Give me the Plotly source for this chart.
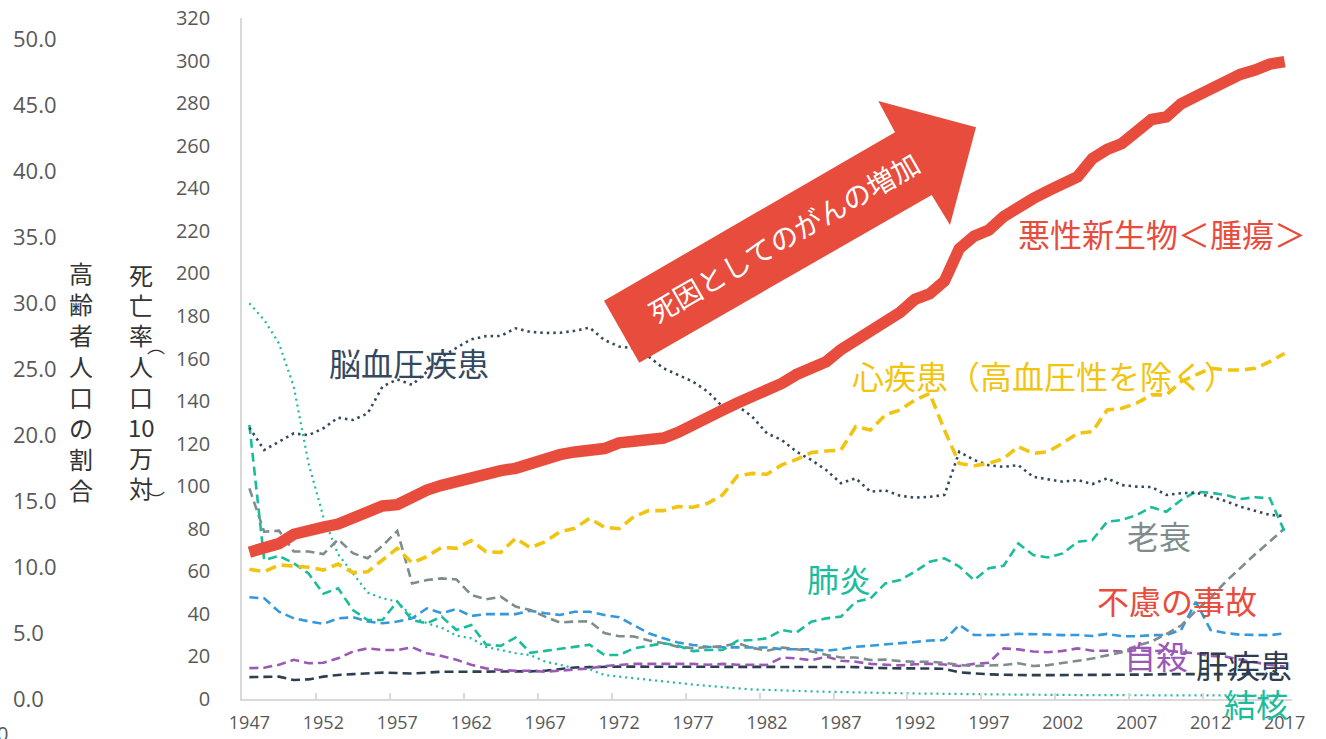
import plotly.graph_objects as go

# ---------------- data ----------------
years = list(range(1947, 2018))

cancer = [69.0, 70.6, 73.0, 77.4, 78.5, 80.8, 82.2, 85.3, 87.1, 90.7,
          91.3, 95.5, 98.2, 100.4, 102.3, 103.2, 105.5, 107.3, 108.4, 110.8,
          113.0, 114.8, 116.1, 116.3, 117.7, 120.4, 121.2, 122.2, 122.6, 125.3,
          128.4, 131.3, 135.7, 139.1, 142.0, 144.2, 148.3, 152.5, 156.1, 158.5,
          164.2, 168.4, 173.6, 177.2, 181.7, 187.8, 190.4, 196.4, 211.6, 217.5,
          220.4, 226.7, 231.6, 235.2, 238.8, 241.7, 245.4, 253.9, 258.3, 261.0,
          266.9, 272.3, 273.5, 279.7, 283.2, 286.6, 290.3, 293.5, 295.5, 298.3,
          299.5]

heart = [61.0, 59.8, 63.0, 62.5, 61.9, 60.6, 63.4, 59.4, 59.8, 65.3,
         70.8, 64.0, 66.9, 71.3, 70.8, 74.4, 69.2, 68.9, 75.5, 71.1,
         73.9, 78.6, 80.2, 84.9, 80.7, 80.0, 85.7, 88.5, 88.5, 90.4,
         90.1, 92.0, 95.9, 104.8, 106.0, 105.6, 110.0, 112.6, 115.8, 116.5,
         117.0, 128.0, 126.4, 133.5, 135.8, 140.5, 143.6, 126.4, 110.7, 109.6,
         110.7, 113.0, 118.6, 115.4, 116.2, 120.2, 124.8, 125.6, 135.8, 136.6,
         139.0, 142.9, 142.9, 149.1, 152.3, 155.4, 154.6, 154.6, 155.4, 158.5,
         162.4]

cerebro = [127.5, 117.0, 120.9, 124.8, 124.0, 127.2, 132.2, 131.1, 134.2, 146.8,
           150.2, 147.6, 153.8, 160.7, 165.0, 169.0, 170.5, 170.6, 174.2, 172.5,
           172.0, 172.1, 173.0, 174.5, 168.7, 165.6, 164.8, 160.9, 155.4, 152.3,
           149.1, 144.4, 137.4, 137.7, 132.7, 124.8, 121.7, 116.2, 112.3, 107.6,
           101.4, 103.7, 97.4, 98.0, 95.5, 94.6, 95.0, 95.9, 116.2, 112.3,
           109.8, 109.1, 109.9, 104.4, 103.4, 102.1, 102.9, 101.0, 103.7, 100.5,
           99.8, 99.6, 95.9, 96.7, 97.0, 95.1, 93.0, 90.4, 88.5, 86.5,
           86.0]

pneumonia = [128.8, 65.3, 67.2, 63.8, 59.0, 49.5, 52.0, 41.8, 37.1, 37.1,
             45.8, 37.1, 35.6, 38.7, 32.4, 34.8, 25.6, 25.0, 28.9, 21.7,
             22.6, 23.5, 24.3, 25.5, 20.7, 20.7, 23.8, 25.0, 26.2, 25.0,
             22.5, 23.0, 23.0, 27.4, 27.7, 28.5, 32.4, 31.3, 36.3, 37.9,
             38.7, 45.7, 47.3, 54.3, 55.9, 59.8, 64.5, 66.1, 62.2, 55.9,
             61.4, 62.6, 73.1, 67.6, 66.5, 68.4, 73.9, 74.7, 83.3, 84.1,
             86.5, 90.1, 88.0, 93.5, 97.4, 96.9, 95.9, 94.0, 94.8, 94.3,
             78.6]

senility = [99.0, 78.6, 79.1, 69.3, 69.3, 68.1, 75.0, 68.5, 66.1, 72.0,
            79.0, 54.3, 55.9, 56.7, 56.2, 48.9, 46.8, 48.1, 43.4, 41.8,
            38.7, 35.9, 36.4, 36.5, 31.0, 29.5, 29.4, 27.5, 26.2, 24.5,
            23.9, 24.2, 24.8, 26.2, 24.0, 22.7, 24.2, 23.4, 22.3, 20.8,
            19.5, 19.5, 18.3, 18.5, 17.8, 17.5, 17.5, 17.0, 16.0, 15.5,
            15.8, 16.0, 16.8, 15.5, 15.9, 17.0, 17.8, 19.0, 20.5, 22.0,
            25.0, 27.0, 30.5, 34.5, 41.5, 47.5, 55.0, 61.5, 68.0, 74.0,
            80.2]

accident = [47.8, 47.3, 41.0, 37.9, 36.5, 35.3, 37.9, 38.4, 36.4, 35.6,
            36.4, 37.9, 42.6, 40.3, 42.3, 39.0, 39.9, 39.9, 39.9, 41.5,
            40.3, 39.5, 41.0, 41.0, 39.5, 38.4, 34.8, 30.9, 28.5, 26.5,
            25.4, 24.5, 24.3, 24.2, 24.0, 24.2, 23.4, 23.4, 23.4, 22.7,
            23.4, 24.5, 25.0, 25.5, 26.1, 26.8, 27.5, 27.7, 34.8, 30.1,
            30.0, 30.1, 30.6, 30.6, 30.3, 30.0, 30.1, 29.6, 30.6, 29.5,
            29.5, 30.0, 30.1, 32.4, 45.7, 32.4, 31.0, 30.2, 30.0, 30.0,
            30.8]

suicide = [14.5, 14.7, 16.1, 18.4, 16.8, 17.0, 19.1, 22.3, 23.8, 23.0,
           23.0, 24.3, 21.5, 20.2, 18.4, 16.1, 14.4, 13.6, 13.3, 13.3,
           12.8, 13.3, 13.6, 14.4, 15.5, 16.1, 16.5, 16.5, 16.5, 16.5,
           16.5, 16.1, 16.5, 16.1, 16.0, 16.0, 19.5, 19.1, 18.2, 19.9,
           18.0, 17.5, 16.5, 16.0, 15.8, 16.3, 16.5, 16.2, 15.5, 16.5,
           17.0, 23.8, 23.3, 22.3, 22.0, 22.6, 23.8, 22.7, 22.7, 22.3,
           22.9, 22.5, 22.8, 22.0, 21.5, 20.2, 19.9, 18.5, 17.3, 16.0,
           15.2]

liver = [10.3, 10.5, 10.5, 8.9, 9.2, 10.5, 11.3, 11.7, 12.0, 12.4,
         12.2, 12.0, 12.4, 12.8, 12.8, 12.8, 12.8, 12.8, 12.8, 13.0,
         13.3, 14.0, 14.8, 15.0, 15.2, 15.2, 15.2, 15.2, 15.2, 15.2,
         15.2, 15.2, 15.2, 15.2, 15.0, 15.0, 15.0, 15.0, 15.0, 15.0,
         15.0, 15.0, 14.6, 14.4, 14.4, 14.4, 14.4, 14.2, 12.5, 12.0,
         11.6, 11.4, 11.2, 11.2, 11.2, 11.2, 11.2, 11.2, 11.3, 11.3,
         11.4, 11.5, 11.7, 11.7, 11.7, 11.7, 11.7, 11.7, 11.7, 11.7,
         11.7]

tuberculosis = [186.0, 178.1, 167.1, 146.8, 110.7, 85.6, 68.0, 58.9, 50.0, 47.3,
                45.8, 38.7, 35.6, 33.5, 29.8, 28.5, 24.5, 23.0, 21.5, 20.6,
                17.6, 16.1, 14.4, 14.0, 11.3, 10.5, 9.7, 8.9, 8.2, 7.4,
                6.8, 6.2, 5.5, 5.0, 4.5, 4.2, 4.0, 3.8, 3.6, 3.4,
                3.2, 3.0, 2.9, 2.8, 2.7, 2.6, 2.6, 2.5, 2.4, 2.3,
                2.2, 2.1, 2.1, 2.0, 2.0, 1.9, 1.9, 1.8, 1.8, 1.8,
                1.7, 1.7, 1.7, 1.7, 1.7, 1.7, 1.7, 1.7, 1.6, 1.6,
                1.6]

x_tick_labels = [str(y) for y in range(1947, 2018, 5)]
y_ticks = list(range(0, 321, 20))
y2_ticks = [0, 5, 10, 15, 20, 25, 30, 35, 40, 45, 50]
title_outer = ["高", "齢", "者", "人", "口", "の", "割", "合"]
title_inner = ["死", "亡", "率", "人", "口", "10", "万", "対"]

# ---------------- layout helpers ----------------
W, H = 1326, 739
ML, MR, MT, MB = 0, 34, 18, 40
PW = W - ML - MR
PH = H - MT - MB


def px(x):
    return (x - ML) / PW


def py(y):
    return (H - MB - y) / PH


JP = "Noto Sans CJK JP"
NUM = "Open Sans"
RED = "#E74C3C"
YEL = "#F1C40F"
DARK = "#34495E"
NAVY = "#2C3E50"
TEAL = "#1ABC9C"
GREY = "#7F8C8D"
BLUE = "#3498DB"
PURP = "#9B59B6"

fig = go.Figure()

series = [
    (tuberculosis, TEAL, 2.2, "2px,4px"),
    (liver, NAVY, 2.6, "9px,5px"),
    (suicide, PURP, 2.6, "9px,5px"),
    (accident, BLUE, 2.6, "9px,5px"),
    (senility, GREY, 2.6, "9px,5px"),
    (pneumonia, TEAL, 2.6, "9px,5px"),
    (cerebro, DARK, 2.6, "2.5px,4px"),
    (heart, YEL, 3.6, "11px,6px"),
    (cancer, RED, 11.5, "solid"),
]
for vals, col, w, dash in series:
    fig.add_trace(go.Scatter(x=years, y=vals, mode="lines",
                             line=dict(color=col, width=w, dash=dash),
                             showlegend=False, hoverinfo="skip"))

# invisible trace carrying the secondary (outer) axis
fig.add_trace(go.Scatter(x=[None], y=[None], yaxis="y2", mode="lines",
                         showlegend=False, hoverinfo="skip"))

annotations = []


def label(text, left, cy, color, size=32):
    annotations.append(dict(text=text, x=px(left), y=py(cy), xref="paper", yref="paper",
                            xanchor="left", yanchor="middle", showarrow=False,
                            font=dict(family=JP, size=size, color=color)))


label("脳血圧疾患", 327, 362, DARK)
label("悪性新生物＜腫瘍＞", 1016, 233, RED)
label("心疾患（高血圧性を除く）", 850, 375, YEL)
label("肺炎", 805, 578, TEAL)
label("老衰", 1125, 535, GREY)
label("不慮の事故", 1095, 600, RED)
label("自殺", 1122, 655, PURP)
label("肝疾患", 1194, 664, NAVY)
label("結核", 1222, 703, TEAL)


def vchar(ch, cx, cy, size=24, angle=0):
    annotations.append(dict(text=ch, x=px(cx), y=py(cy), xref="paper", yref="paper",
                            xanchor="center", yanchor="middle", showarrow=False,
                            textangle=angle,
                            font=dict(family=JP, size=size, color="#333333")))


# axis titles (vertical, stacked characters)
for i, ch in enumerate(title_outer):
    vchar(ch, 81, 272 + 31 * i)
for i, ch in enumerate(title_inner):
    vchar(ch, 141, 274 + 30.5 * i)
vchar("︵", 156, 345, size=18)
vchar("︶", 156, 499, size=18)

# clipped stray label at lower-left corner
annotations.append(dict(text="0", x=px(2), y=py(733), xref="paper", yref="paper",
                        xanchor="center", yanchor="middle", showarrow=False,
                        font=dict(family=NUM, size=20, color="#595959")))

# big arrow decoration
arrow_pts = [(604, 300.7), (895, 132.3), (878.3, 101), (976, 127.3),
             (950, 225), (931.7, 195), (639.3, 362.7)]
path = "M " + " L ".join(f"{px(a):.5f},{py(b):.5f}" for a, b in arrow_pts) + " Z"
shapes = [dict(type="path", path=path, xref="paper", yref="paper",
               fillcolor=RED, line=dict(width=0), layer="above")]
annotations.append(dict(text="死因としてのがんの増加", textangle=-30, x=px(783), y=py(237),
                        xref="paper", yref="paper", xanchor="center", yanchor="middle",
                        showarrow=False, font=dict(family=JP, size=28, color="white")))

fig.update_layout(
    width=W, height=H,
    margin=dict(l=ML, r=MR, t=MT, b=MB, pad=0),
    paper_bgcolor="white", plot_bgcolor="white",
    showlegend=False,
    xaxis=dict(domain=[px(242), 1], range=[1946.5, 2017.5],
               tickmode="array", tickvals=[int(t) for t in x_tick_labels], ticktext=x_tick_labels,
               ticks="", showline=True, linecolor="#d9d9d9", linewidth=1.5,
               showgrid=False, zeroline=False, automargin=False,
               ticklabelstandoff=7,
               tickfont=dict(family=NUM, size=18, color="#595959"),
               minor=dict(tickmode="array", tickvals=[1951.5 + 5 * k for k in range(14)],
                          ticks="inside", ticklen=6, tickwidth=1.5, tickcolor="#d9d9d9",
                          showgrid=False)),
    yaxis=dict(domain=[0, 1], range=[0, 320], tickmode="array", tickvals=y_ticks,
               ticks="", showline=True, linecolor="#d9d9d9", linewidth=1.5,
               showgrid=False, zeroline=False, automargin=False,
               ticklabelstandoff=26,
               tickfont=dict(family=NUM, size=20, color="#595959")),
    yaxis2=dict(overlaying="y", side="right", anchor="free", position=0,
                range=[0, 681 / 13.2], tickmode="array", tickvals=y2_ticks, tickformat=".1f",
                ticks="", showline=False, showgrid=False, zeroline=False, automargin=False,
                ticklabelstandoff=12,
                tickfont=dict(family=NUM, size=22, color="#595959")),
    annotations=annotations,
    shapes=shapes,
)

fig.write_html("out.html", config={"displayModeBar": False},
               post_script="document.body.style.margin='0';")
